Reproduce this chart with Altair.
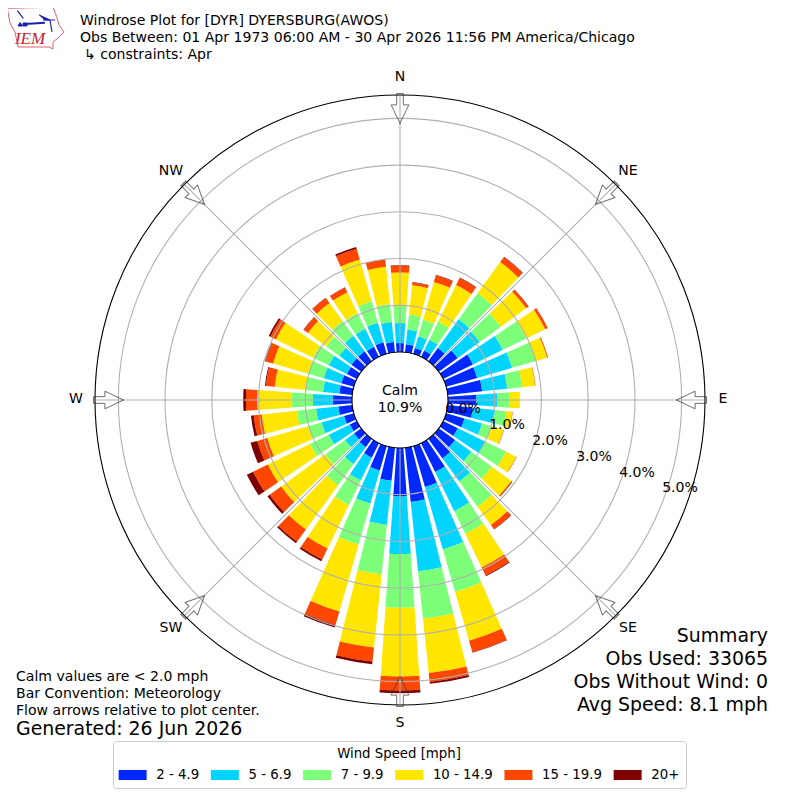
import altair as alt
import pandas as pd
import math

directions = [d * 10 for d in range(36)]
speed_bins = ["2 - 4.9", "5 - 6.9", "7 - 9.9", "10 - 14.9", "15 - 19.9", "20+"]
bin_colors = ["#0028ff", "#00d4ff", "#7cff79", "#ffe600", "#ff4700", "#7f0000"]

blue = [.19,.17,.13,.15,.35,.50,.71,.69,.74,.61,.54,.41,.35,.43,.52,.69,.91,1.17,1.04,.71,.54,.35,.22,.19,.17,.22,.30,.41,.28,.28,.24,.26,.26,.24,.26,.22]
cyan = [.43,.32,.26,.26,.76,.58,.71,.78,.54,.45,.48,.39,.65,.43,.61,.93,1.39,1.49,1.23,.95,.74,.54,.45,.24,.50,.50,.48,.43,.35,.39,.43,.32,.41,.43,.43,.43]
green = [.37,.32,.37,.43,.69,.56,.56,.52,.32,.26,.24,.22,.50,.54,.67,.54,.95,1.02,1.15,1.06,.91,.58,.56,.52,.45,.30,.41,.45,.37,.35,.37,.35,.39,.37,.48,.39]
yellow = [.71,.63,.84,.87,.82,.67,.45,.26,.28,.22,.13,.26,.24,.52,.48,.80,1.08,1.17,1.47,1.58,1.49,1.04,1.17,1.17,1.00,.91,.76,.74,.67,.78,.89,.48,.48,.50,.93,.80]
orange = [.15,.06,.15,.17,.13,.06,.06,.02,.01,0,.01,.01,.01,.02,.11,.19,.26,.19,.30,.30,.30,.26,.32,.30,.35,.22,.17,.24,.19,.17,.13,.11,.13,.11,.24,.15]
darkred = [.01,.01,.01,.01,.01,.01,0,0,0,0,0,0,0,.01,.01,.02,.01,.04,.06,.06,.06,.04,.04,.06,.15,.15,.06,.06,.02,.01,.04,.01,.01,.01,.04,.01]
series = [blue, cyan, green, yellow, orange, darkred]

ring_values = [1, 2, 3, 4, 5]
frame_values = [0, 5.5]
spoke_angles = [0, 45, 90, 135, 180, 225, 270, 315]
half_bar = 4

rows = []
for i, d in enumerate(directions):
    base = 0.0
    for name, values in zip(speed_bins, series):
        v = values[i]
        if v > 0:
            rows.append(dict(bin=name, t0=d - half_bar, t1=d + half_bar, r0=base, r1=base + v))
        base += v
bars_df = pd.DataFrame(rows)

theta_scale = alt.Scale(domain=[0, 360], range=[0, 2 * math.pi])
radius_scale = alt.Scale(type="linear", domain=[0, 5.5], range=[48, 305])

bars = alt.Chart(bars_df).mark_arc().encode(
    theta=alt.Theta("t0:Q", scale=theta_scale, stack=None),
    theta2="t1:Q",
    radius=alt.Radius("r1:Q", scale=radius_scale),
    radius2="r0:Q",
    color=alt.Color(
        "bin:N",
        scale=alt.Scale(domain=speed_bins, range=bin_colors),
        legend=alt.Legend(
            title="Wind Speed [mph]", orient="none", legendX=105, legendY=733,
            direction="horizontal", columns=6, gridAlign="each", columnPadding=10.2,
            symbolType="M-1.4,-1L4.2,-1L4.2,1L-1.4,1Z", symbolSize=100, symbolStrokeWidth=0,
            labelFont="DejaVu Sans", labelFontSize=13.3, labelColor="#000", labelOffset=24,
            titleFont="DejaVu Sans", titleFontSize=13.3, titleFontWeight="normal", titleColor="#000",
            titleAnchor="middle", titlePadding=8, padding=6,
            fillColor="white", strokeColor="#cccccc", cornerRadius=3,
        ),
    ),
)


def rings(values, color):
    df = pd.DataFrame({"p": values, "t0": 0, "t1": 360})
    return alt.Chart(df).mark_arc(fillOpacity=0, stroke=color, strokeWidth=1.1).encode(
        theta=alt.Theta("t0:Q", scale=theta_scale, stack=None),
        theta2="t1:Q",
        radius=alt.Radius("p:Q", scale=radius_scale),
        radius2="p:Q",
    )


spoke_df = pd.DataFrame({"a": spoke_angles, "r0": 0, "r1": 5.5})
spokes = alt.Chart(spoke_df).mark_arc(stroke="#b0b0b0", strokeWidth=1.1, fillOpacity=0).encode(
    theta=alt.Theta("a:Q", scale=theta_scale, stack=None),
    theta2="a:Q",
    radius=alt.Radius("r1:Q", scale=radius_scale),
    radius2="r0:Q",
)

ARROW = "M-0.22,-1L0.22,-1L0.22,-0.24L0.59,-0.24L0,1L-0.59,-0.24L-0.22,-0.24Z"
arrow_df = pd.DataFrame({
    "a": spoke_angles,
    "x": [392 + 291.5 * math.sin(math.radians(a)) for a in spoke_angles],
    "y": [392 - 291.5 * math.cos(math.radians(a)) for a in spoke_angles],
})
arrows = alt.Chart(arrow_df).mark_point(shape=ARROW, size=900, stroke="#333333", strokeWidth=1, filled=False).encode(
    x=alt.X("x:Q", scale=None, axis=None),
    y=alt.Y("y:Q", scale=None, axis=None),
    angle=alt.Angle("a:Q", scale=alt.Scale(domain=[0, 360], range=[0, 360])),
)


def txt(s, x, y, size=14.05, align="left", font="DejaVu Sans", color="#000000", style="normal"):
    return alt.Chart(pd.DataFrame({"t": [s]})).mark_text(
        align=align, baseline="middle", fontSize=size, font=font, color=color, fontStyle=style
    ).encode(text="t:N", x=alt.value(x - 8), y=alt.value(y - 8))


texts = [
    txt("Windrose Plot for [DYR] DYERSBURG(AWOS)", 80, 21),
    txt("Obs Between: 01 Apr 1973 06:00 AM - 30 Apr 2026 11:56 PM America/Chicago", 80, 38),
    txt("\u21b3 constraints: Apr", 84, 55),
    txt("N", 400, 77, align="center"), txt("NE", 628, 171, align="center"),
    txt("E", 723, 399, align="center"), txt("SE", 628, 628, align="center"),
    txt("S", 400, 723, align="center"), txt("SW", 171, 628, align="center"),
    txt("W", 76, 399, align="center"), txt("NW", 171, 171, align="center"),
    txt("0.0%", 463, 409, align="center"), txt("1.0%", 507, 425, align="center"),
    txt("2.0%", 550, 441, align="center"), txt("3.0%", 594, 457, align="center"),
    txt("4.0%", 637, 473, align="center"), txt("5.0%", 680, 488, align="center"),
    txt("Calm", 400, 391, align="center"), txt("10.9%", 400, 408, align="center"),
    txt("Summary", 768, 636, size=18.9, align="right"),
    txt("Obs Used: 33065", 768, 659, size=18.9, align="right"),
    txt("Obs Without Wind: 0", 768, 682, size=18.9, align="right"),
    txt("Avg Speed: 8.1 mph", 768, 705, size=18.9, align="right"),
    txt("Calm values are < 2.0 mph", 16, 677),
    txt("Bar Convention: Meteorology", 16, 694),
    txt("Flow arrows relative to plot center.", 16, 711),
    txt("Generated: 26 Jun 2026", 16, 729, size=18.9),
    txt("IEM", 30, 39, size=17, align="center", font="Liberation Serif", color="#c8202e", style="italic"),
]


def logo(points, closed=False, stroke=None, fill=None, width=1.0):
    d = "M" + "L".join(f"{(x - 36) / 30:.3f},{(y - 28) / 30:.3f}" for x, y in points) + ("Z" if closed else "")
    kw = dict(shape=d, size=3600, filled=fill is not None, opacity=1)
    if fill is not None:
        kw["fill"] = fill
        kw["stroke"] = fill
    else:
        kw["stroke"] = stroke
    return alt.Chart(pd.DataFrame({"k": [0]})).mark_point(strokeWidth=width, **kw).encode(
        x=alt.value(28), y=alt.value(20)
    )


logos = [
    logo([(7.3, 8.3), (53, 7.3), (56.7, 16.7), (59, 25), (64, 32), (58, 38), (53, 42), (53, 49), (49, 47),
          (18, 47), (17, 42), (15, 32), (10, 23)], closed=True, stroke="#e0606a", width=1),
    logo([(25, 24), (45, 22.7)], stroke="#1a22b0", width=2),
    logo([(39.3, 15), (50, 20), (45, 20)], closed=True, fill="#1a22b0"),
    logo([(43, 20), (55, 20)], stroke="#1a22b0", width=1),
    logo([(17.3, 10.7), (23.3, 18.3)], stroke="#1a22b0", width=1.2),
    logo([(50, 20), (52, 32)], stroke="#1a22b0", width=1.2),
    logo([(20, 22.5), (22.5, 26), (18, 26)], closed=True, fill="#1a22b0"),
    logo([(23, 23), (27, 23), (27, 26), (23, 26)], closed=True, fill="#1a22b0"),
]

chart = alt.layer(
    bars, rings(ring_values, "#b0b0b0"), spokes, arrows, rings(frame_values, "#000000"), *texts, *logos
).properties(
    width=784, height=784, padding=0, background="white",
    autosize=alt.AutoSizeParams(type="none", contains="padding"),
).configure_view(strokeWidth=0)

chart.save("out.html", embed_options={"renderer": "svg", "actions": False})
